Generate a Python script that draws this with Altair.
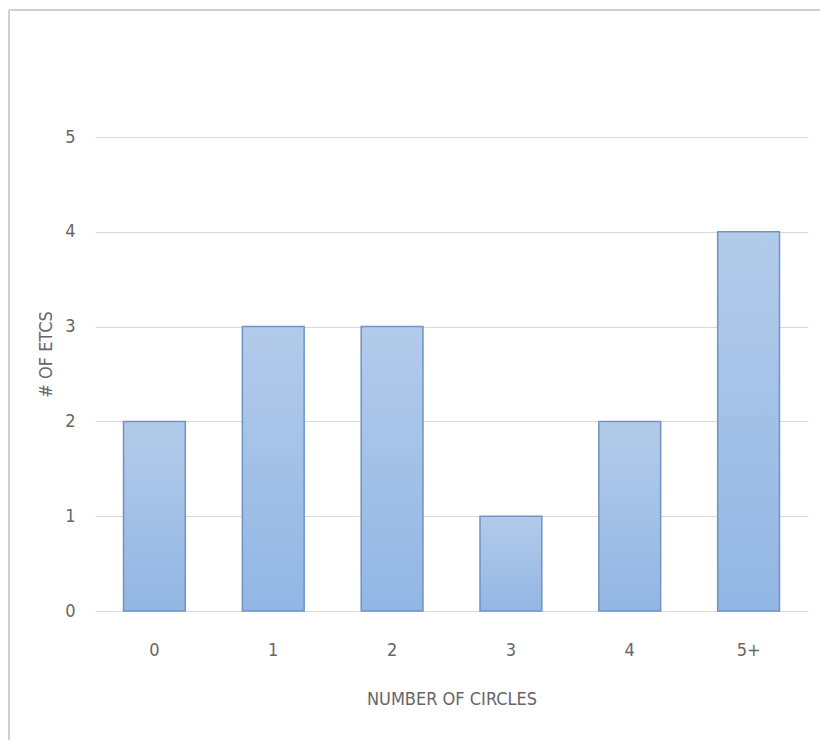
import altair as alt
import pandas as pd

categories = ["0", "1", "2", "3", "4", "5+"]
counts = [2, 3, 3, 1, 2, 4]

df = pd.DataFrame({"circles": categories, "etcs": counts})

FONT = "DejaVu Sans Condensed"
BORDER = "#d0d0d0"

base = alt.Chart(pd.DataFrame({"a": [0]}))
frame_left = base.mark_rule(color=BORDER, strokeWidth=2).encode(
    x=alt.value(-86), y=alt.value(-127), y2=alt.value(603)
)
frame_top = base.mark_rule(color=BORDER, strokeWidth=2).encode(
    x=alt.value(-86), x2=alt.value(725), y=alt.value(-127)
)

bars = alt.Chart(df).mark_bar(
    color=alt.Gradient(
        gradient="linear",
        stops=[alt.GradientStop(color="#b3cbea", offset=0),
               alt.GradientStop(color="#92b6e4", offset=1)],
        x1=0, x2=0, y1=0, y2=1,
    ),
    stroke="#6f93c3",
    strokeWidth=1.5,
).encode(
    x=alt.X("circles:N", sort=categories,
            scale=alt.Scale(paddingInner=0.48, paddingOuter=0.24),
            axis=alt.Axis(title="NUMBER OF CIRCLES", labelAngle=0, ticks=False,
                          domain=False, grid=False, labelPadding=30,
                          titlePadding=31)),
    y=alt.Y("etcs:Q", scale=alt.Scale(domain=[0, 5], nice=False),
            axis=alt.Axis(title="# OF ETCS", values=[0, 1, 2, 3, 4, 5],
                          ticks=False, domain=False, grid=True,
                          labelPadding=20, titlePadding=9, titleY=217)),
)

chart = alt.layer(frame_left, frame_top, bars).properties(
    width=713, height=474,
    autosize=alt.AutoSizeParams(type="none"),
    padding={"left": 87, "top": 129, "right": 12, "bottom": 129},
).configure_axis(
    labelFont=FONT, titleFont=FONT, labelFontSize=18, titleFontSize=18,
    labelColor="#666666", titleColor="#666666", titleFontWeight="normal",
    gridColor="#d9d9d9", gridWidth=1.2,
).configure_view(stroke=None)

chart.save("out.html", embed_options={"renderer": "svg", "actions": False})
